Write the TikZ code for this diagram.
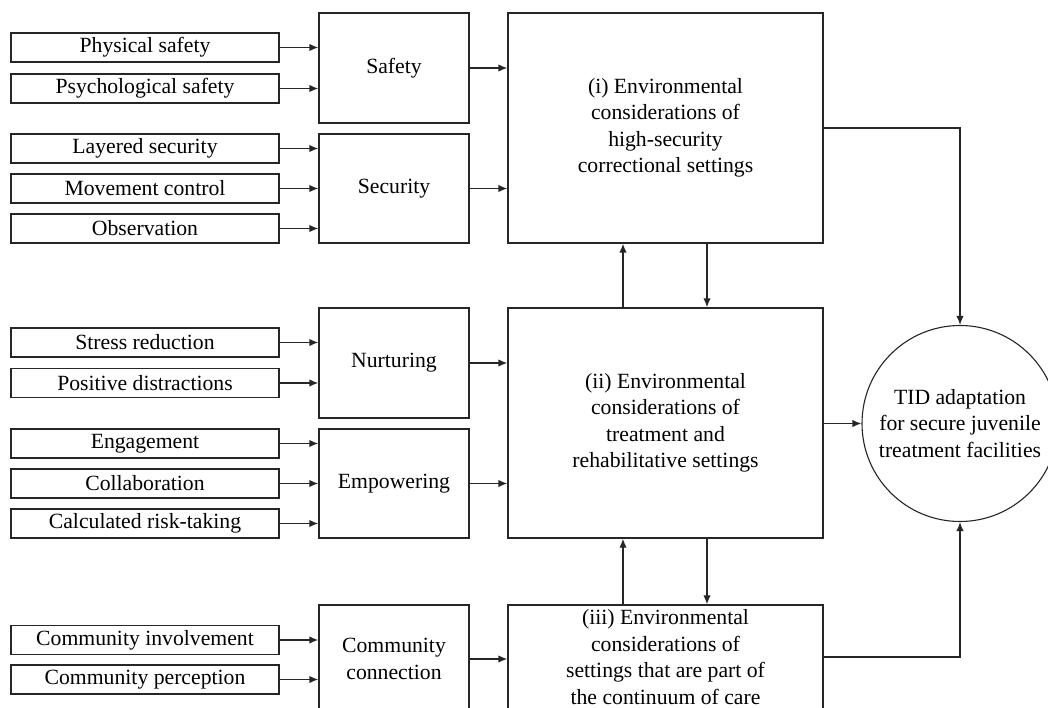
\documentclass[tikz,border=0pt]{standalone}
\usepackage{fontspec}
\setmainfont{Liberation Serif}
\usetikzlibrary{arrows.meta}
\newcommand\dfont{\fontsize{21.7pt}{26.4pt}\selectfont}
\begin{document}
\begin{tikzpicture}[x=1pt,y=-1pt,
  base/.style={draw=black!85, line width=1.4pt, font=\dfont, align=center, inner sep=0pt, text=black},
  leaf/.style={base, minimum width=268pt, minimum height=29pt},
  mid/.style={base, minimum width=150pt},
  big/.style={base, minimum width=315pt},
  goal/.style={base, line width=1.1pt, circle, minimum size=196pt},
  arr/.style={line width=1.4pt, draw=black!85, -{Latex[length=9pt,width=7.5pt]}}]
\useasboundingbox (0,0) rectangle (1048,708);
\clip (0,0) rectangle (1048,708);
\fill[white] (0,0) rectangle (1048,708);
% left boxes
\node[leaf] (ps)  at (145,47.5) {Physical safety};
\node[leaf] (psy) at (145,88.5) {Psychological safety};
\node[leaf] (ls)  at (145,148.5) {Layered security};
\node[leaf] (mc)  at (145,188.5) {Movement control};
\node[leaf] (ob)  at (145,228.5) {Observation};
\node[leaf] (sr)  at (145,342.5) {Stress reduction};
\node[leaf] (pd)  at (145,383) {Positive distractions};
\node[leaf] (en)  at (145,443.5) {Engagement};
\node[leaf] (co)  at (145,483.5) {Collaboration};
\node[leaf] (cr)  at (145,523.5) {Calculated risk-taking};
\node[leaf] (ci)  at (145,640) {Community involvement};
\node[leaf] (cp)  at (145,679.5) {Community perception};
% middle boxes
\node[mid, minimum height=110pt] (saf) at (394,68) {Safety};
\node[mid, minimum height=109pt] (sec) at (394,188.5) {Security};
\node[mid, minimum height=110pt] (nur) at (394,363) {Nurturing};
\node[mid, minimum height=109pt] (emp) at (394,483.5) {Empowering};
\node[mid, minimum height=108pt] (com) at (394,659) {Community\\connection};
% big boxes
\node[big, minimum height=230pt] (i) at (665.5,128) {(i) Environmental\\considerations of\\high-security\\correctional settings};
\node[big, minimum height=230pt] (ii) at (665.5,423) {(ii) Environmental\\considerations of\\treatment and\\rehabilitative settings};
\node[big, minimum height=104pt] (iii) at (665.5,657) {(iii) Environmental\\considerations of\\settings that are part of\\the continuum of care};
% goal
\node[goal] (tid) at (960,423.5) {TID adaptation\\for secure juvenile\\treatment facilities};
% arrows left -> middle
\draw[arr] (ps.east) -- (ps.east -| saf.west);
\draw[arr] (psy.east) -- (psy.east -| saf.west);
\draw[arr] (ls.east) -- (ls.east -| sec.west);
\draw[arr] (mc.east) -- (mc.east -| sec.west);
\draw[arr] (ob.east) -- (ob.east -| sec.west);
\draw[arr] (sr.east) -- (sr.east -| nur.west);
\draw[arr] (pd.east) -- (pd.east -| nur.west);
\draw[arr] (en.east) -- (en.east -| emp.west);
\draw[arr] (co.east) -- (co.east -| emp.west);
\draw[arr] (cr.east) -- (cr.east -| emp.west);
\draw[arr] (ci.east) -- (ci.east -| com.west);
\draw[arr] (cp.east) -- (cp.east -| com.west);
% middle -> big
\draw[arr] (saf.east) -- (saf.east -| i.west);
\draw[arr] (sec.east) -- (sec.east -| i.west);
\draw[arr] (nur.east) -- (nur.east -| ii.west);
\draw[arr] (emp.east) -- (emp.east -| ii.west);
\draw[arr] (com.east) -- (com.east -| iii.west);
% vertical links
\coordinate (up) at (623,0);
\coordinate (dn) at (707,0);
\draw[arr] (up |- ii.north) -- (up |- i.south);
\draw[arr] (dn |- i.south) -- (dn |- ii.north);
\draw[arr] (up |- iii.north) -- (up |- ii.south);
\draw[arr] (dn |- ii.south) -- (dn |- iii.north);
% to goal
\draw[arr] (i.east) -| (tid.north);
\draw[arr] (ii.east |- tid.west) -- (tid.west);
\draw[arr] (iii.east) -| (tid.south);
\end{tikzpicture}
\end{document}
